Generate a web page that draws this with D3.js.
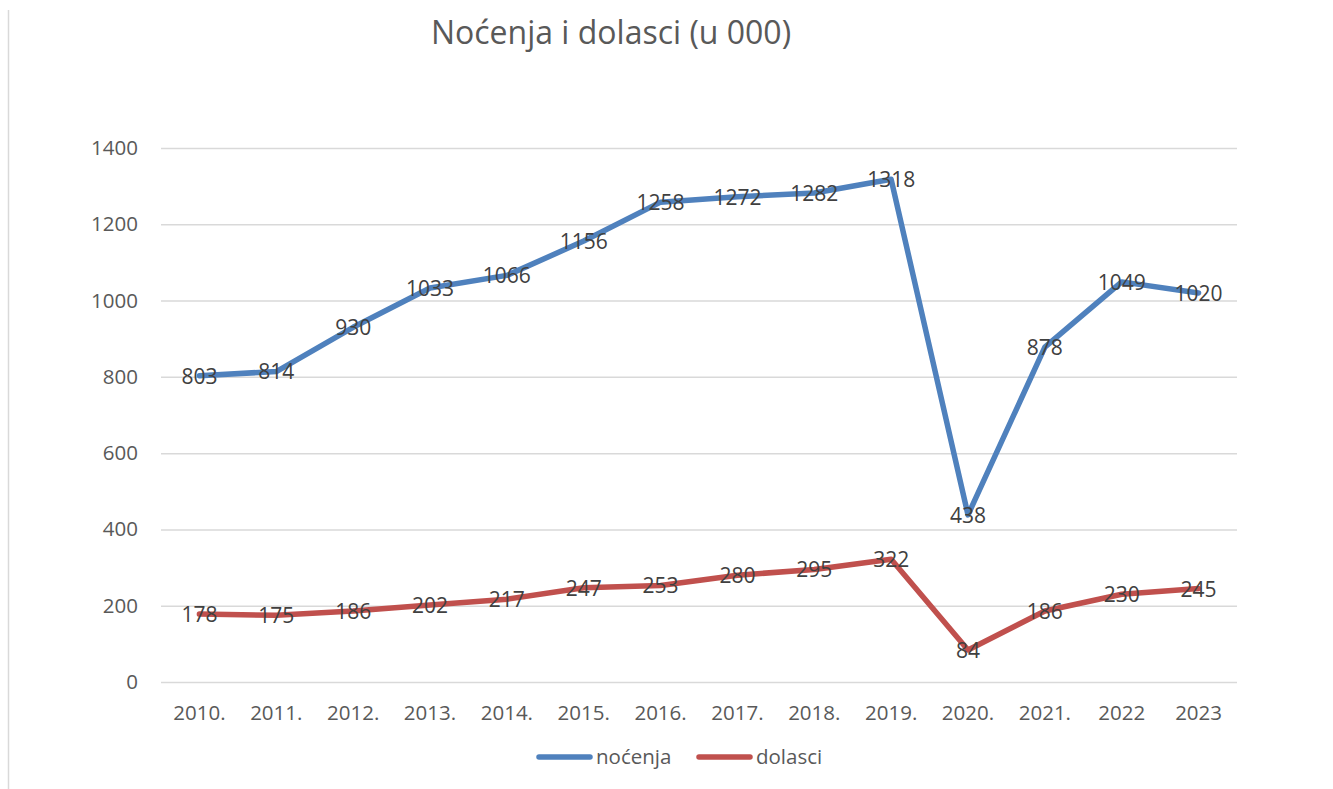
<!DOCTYPE html>
<html><head><meta charset="utf-8">
<script src="https://cdn.jsdelivr.net/npm/d3@7"></script>
<style>body{margin:0;background:#fff}svg{display:block}</style>
</head><body>
<svg id="c" width="1333" height="789"></svg>
<script>
const years = ["2010.","2011.","2012.","2013.","2014.","2015.","2016.","2017.","2018.","2019.","2020.","2021.","2022","2023"];
const nocenja = [803,814,930,1033,1066,1156,1258,1272,1282,1318,438,878,1049,1020];
const dolasci = [178,175,186,202,217,247,253,280,295,322,84,186,230,245];
const yTicks = [0,200,400,600,800,1000,1200,1400];
const seriesNames = ["noćenja","dolasci"];
const colors = ["#4F81BD","#C0504D"];

const svg = d3.select("#c");
const font = "'Open Sans', sans-serif";
const fs = "20.5px";
const pL = 161, pR = 1237, pT = 148, pB = 682;

svg.append("line").attr("x1",8.5).attr("x2",8.5).attr("y1",10).attr("y2",789).attr("stroke","#d9d9d9").attr("stroke-width",1.5);

const x = d3.scaleBand().domain(years).range([pL,pR]);
const y = d3.scaleLinear().domain([0,1400]).range([pB,pT]);

const yAxis = d3.axisLeft(y).tickValues(yTicks).tickFormat(d3.format("d")).tickSize(-(pR-pL)).tickPadding(23);
const gy = svg.append("g").attr("transform",`translate(${pL},0)`).call(yAxis);
gy.select(".domain").remove();
gy.selectAll(".tick line").attr("stroke","#d9d9d9").attr("stroke-width",1.5);
gy.selectAll(".tick text").attr("fill","#595959").style("font-family",font).style("font-size",fs);

const xAxis = d3.axisBottom(x).tickSize(0).tickPadding(23);
const gx = svg.append("g").attr("transform",`translate(0,${pB})`).call(xAxis);
gx.select(".domain").remove();
gx.selectAll(".tick text").attr("fill","#595959").style("font-family",font).style("font-size",fs);

const cx = d => x(d) + x.bandwidth()/2;
const line = d3.line().x((d,i)=>cx(years[i])).y(d=>y(d));
[nocenja,dolasci].forEach((s,k)=>{
  svg.append("path").datum(s).attr("d",line).attr("fill","none").attr("stroke",colors[k]).attr("stroke-width",5.5).attr("stroke-linejoin","round").attr("stroke-linecap","round");
});
[nocenja,dolasci].forEach((s,k)=>{
  svg.append("g").selectAll("text").data(s).join("text")
    .attr("x",(d,i)=>cx(years[i])).attr("y",d=>y(d)).attr("dy","0.38em")
    .attr("text-anchor","middle").attr("fill","#404040")
    .style("font-family",font).style("font-size","21px").text(d=>d);
});

svg.append("text").attr("x",611).attr("y",33).attr("dy","0.35em").attr("text-anchor","middle")
  .attr("fill","#595959").style("font-family",font).style("font-size","32px").text("Noćenja i dolasci (u 000)");

const legX = [537,697];
seriesNames.forEach((n,k)=>{
  svg.append("line").attr("x1",legX[k]+2).attr("x2",legX[k]+53).attr("y1",757).attr("y2",757)
    .attr("stroke",colors[k]).attr("stroke-width",5.5).attr("stroke-linecap","round");
  svg.append("text").attr("x",legX[k]+59).attr("y",757).attr("dy","0.35em").attr("fill","#595959")
    .style("font-family",font).style("font-size",fs).text(n);
});
</script>
</body></html>
